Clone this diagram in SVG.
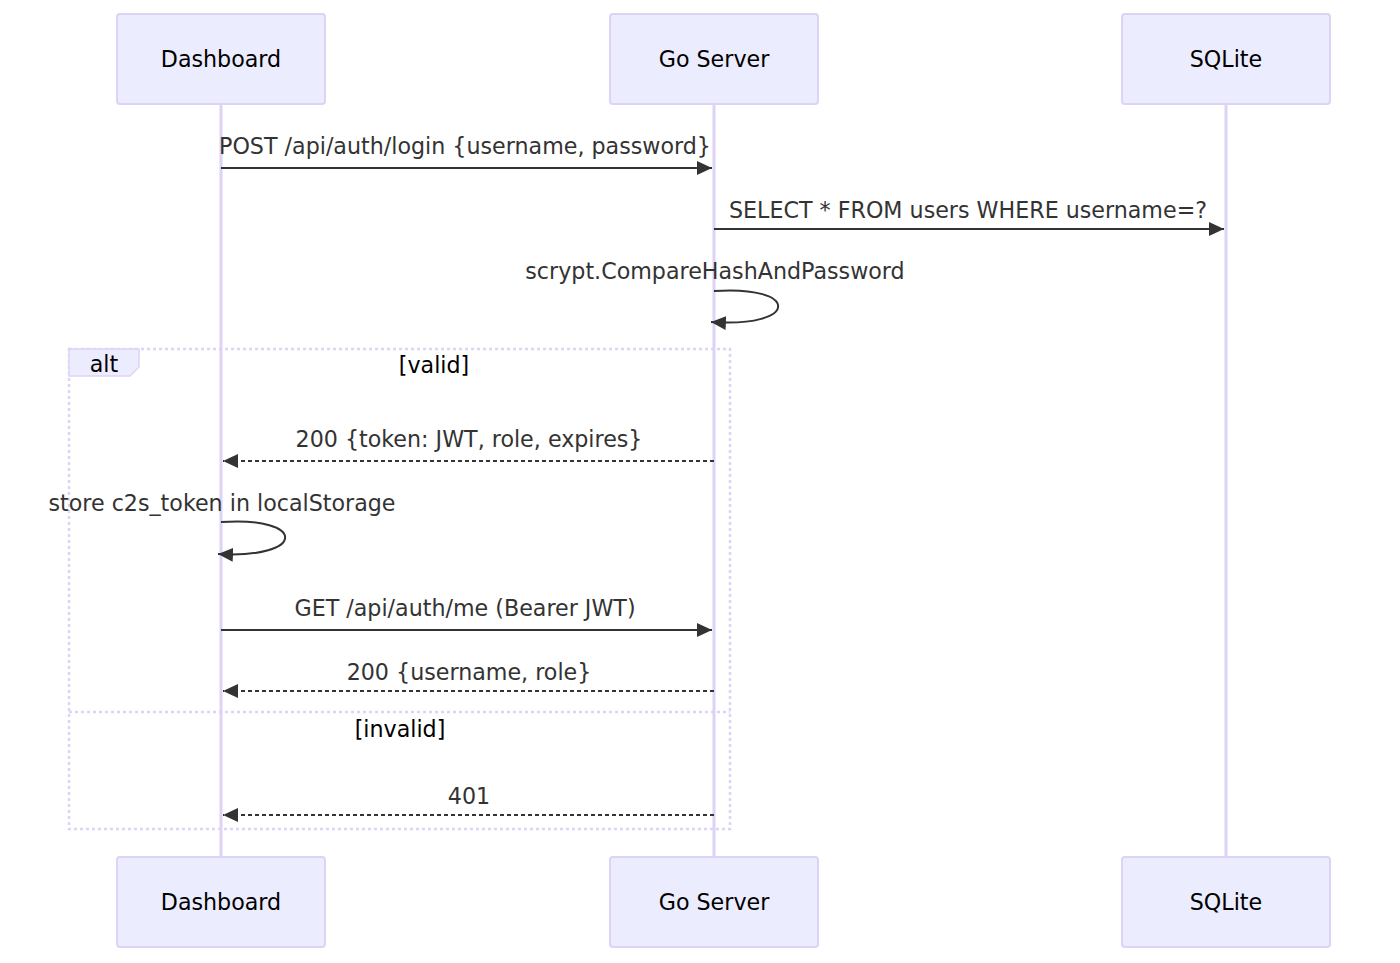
<svg xmlns="http://www.w3.org/2000/svg" width="1400" height="963" viewBox="0 0 1400 963">
<style>
.actor{fill:#ECECFF;stroke:#DCD3F5;stroke-width:2}
.atext{font-family:"DejaVu Sans",sans-serif;font-size:22.2px;fill:#000;text-anchor:middle}
.life{stroke:#DCD3F5;stroke-width:3}
.msg{stroke:#333;stroke-width:2;fill:none}
.dash{stroke-dasharray:4,3}
.mtext{font-family:"DejaVu Sans",sans-serif;font-size:22.2px;fill:#333;text-anchor:middle}
.loop{stroke:#DCD3F5;stroke-width:2.5;stroke-dasharray:3,3;fill:none}
.lbl{fill:#ECECFF;stroke:#DCD3F5;stroke-width:1.5}
.ltext{font-family:"DejaVu Sans",sans-serif;font-size:22.2px;fill:#000;text-anchor:middle}
</style>
<defs>
<marker id="arrow" markerUnits="userSpaceOnUse" markerWidth="16" markerHeight="14" refX="15" refY="7" orient="auto">
<path d="M 0 0 L 15 7 L 0 14 z" fill="#333"/>
</marker>
</defs>
<rect width="1400" height="963" fill="#fff"/>
<g id="lifelines">
<line class="life" x1="221" y1="104" x2="221" y2="857"/>
<line class="life" x1="714" y1="104" x2="714" y2="857"/>
<line class="life" x1="1226" y1="104" x2="1226" y2="857"/>
</g>
<g id="alt-frame">
<rect class="loop" x="69" y="349" width="661" height="480"/>
<polygon class="lbl" points="69,349 139,349 139,367 130,376 69,376"/>
<text class="ltext" x="104" y="372">alt</text>
<text class="ltext" x="434" y="373">[valid]</text>
<line class="loop" x1="69" y1="712" x2="730" y2="712"/>
<text class="ltext" x="400" y="737">[invalid]</text>
</g>
<g id="actor-dashboard-top"><rect class="actor" x="117" y="14" width="208" height="90" rx="3"/><text class="atext" x="221" y="67">Dashboard</text></g>
<g id="actor-goserver-top"><rect class="actor" x="610" y="14" width="208" height="90" rx="3"/><text class="atext" x="714" y="67">Go Server</text></g>
<g id="actor-sqlite-top"><rect class="actor" x="1122" y="14" width="208" height="90" rx="3"/><text class="atext" x="1226" y="67">SQLite</text></g>
<g id="actor-dashboard-bottom"><rect class="actor" x="117" y="857" width="208" height="90" rx="3"/><text class="atext" x="221" y="910">Dashboard</text></g>
<g id="actor-goserver-bottom"><rect class="actor" x="610" y="857" width="208" height="90" rx="3"/><text class="atext" x="714" y="910">Go Server</text></g>
<g id="actor-sqlite-bottom"><rect class="actor" x="1122" y="857" width="208" height="90" rx="3"/><text class="atext" x="1226" y="910">SQLite</text></g>
<g id="connectors">
<text class="mtext" x="465" y="154">POST /api/auth/login {username, password}</text>
<line class="msg" x1="221" y1="168" x2="712" y2="168" marker-end="url(#arrow)"/>
<text class="mtext" x="968" y="218">SELECT * FROM users WHERE username=?</text>
<line class="msg" x1="714" y1="229" x2="1224" y2="229" marker-end="url(#arrow)"/>
<text class="mtext" x="715" y="279">scrypt.CompareHashAndPassword</text>
<path class="msg" d="M 714,291 C 800,285 800,328 711,322" marker-end="url(#arrow)"/>
<text class="mtext" x="469" y="447">200 {token: JWT, role, expires}</text>
<line class="msg dash" x1="714" y1="461" x2="223" y2="461" marker-end="url(#arrow)"/>
<text class="mtext" x="222" y="511">store c2s_token in localStorage</text>
<path class="msg" d="M 221,522 C 307,516 307,559 218,554" marker-end="url(#arrow)"/>
<text class="mtext" x="465" y="616">GET /api/auth/me (Bearer JWT)</text>
<line class="msg" x1="221" y1="630" x2="712" y2="630" marker-end="url(#arrow)"/>
<text class="mtext" x="469" y="680">200 {username, role}</text>
<line class="msg dash" x1="714" y1="691" x2="223" y2="691" marker-end="url(#arrow)"/>
<text class="mtext" x="469" y="804">401</text>
<line class="msg dash" x1="714" y1="815" x2="223" y2="815" marker-end="url(#arrow)"/>
</g>
</svg>
